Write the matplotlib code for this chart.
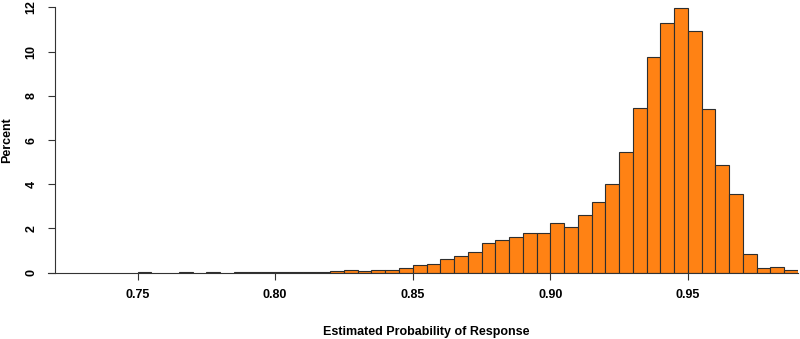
import numpy as np
import matplotlib
matplotlib.use("Agg")
import matplotlib.pyplot as plt

plt.rcParams['font.family'] = ['Liberation Sans', 'DejaVu Sans']

# histogram bins (left edges) and percent of cases in each bin
bin_left = [0.720, 0.725, 0.730, 0.735, 0.740, 0.745, 0.750, 0.755, 0.760, 0.765,
            0.770, 0.775, 0.780, 0.785, 0.790, 0.795, 0.800, 0.805, 0.810, 0.815,
            0.820, 0.825, 0.830, 0.835, 0.840, 0.845, 0.850, 0.855, 0.860, 0.865,
            0.870, 0.875, 0.880, 0.885, 0.890, 0.895, 0.900, 0.905, 0.910, 0.915,
            0.920, 0.925, 0.930, 0.935, 0.940, 0.945, 0.950, 0.955, 0.960, 0.965,
            0.970, 0.975, 0.980, 0.985]
percent = [0, 0, 0, 0, 0, 0, 0.03, 0, 0, 0.02,
           0, 0.02, 0, 0.02, 0.02, 0.02, 0.02, 0.02, 0.04, 0.05,
           0.06, 0.14, 0.09, 0.14, 0.14, 0.21, 0.36, 0.41, 0.60, 0.74,
           0.95, 1.33, 1.46, 1.61, 1.78, 1.81, 2.26, 2.07, 2.61, 3.18,
           4.01, 5.45, 7.44, 9.76, 11.28, 11.96, 10.91, 7.41, 4.89, 3.56,
           0.83, 0.20, 0.26, 0.11]
bin_width = 0.005

x_ticks = [0.75, 0.80, 0.85, 0.90, 0.95]
y_ticks = [0, 2, 4, 6, 8, 10, 12]

fig = plt.figure(figsize=(8, 3.39), dpi=100)
ax = fig.add_axes([55 / 800, 66.3 / 339, 743 / 800, 265.4 / 339])

bl = np.array(bin_left)
pc = np.array(percent)
keep = pc > 0
ax.bar(bl[keep], pc[keep], width=bin_width, align='edge',
       color='#ff8214', edgecolor='#2e2e2e', linewidth=0.8)
ax.axhline(0, color='#333333', linewidth=0.8, xmin=-0.01, clip_on=False)

ax.set_xlim(0.72, 0.99)
ax.set_ylim(0, 12)

for side in ['top', 'right', 'bottom']:
    ax.spines[side].set_visible(False)
ax.spines['left'].set_color('#333333')
ax.spines['left'].set_linewidth(0.8)

ax.set_xticks(x_ticks)
ax.set_xticklabels([f"{v:.2f}" for v in x_ticks])
ax.set_yticks(y_ticks)
ax.set_yticklabels([str(v) for v in y_ticks], rotation=90, va='center')
ax.tick_params(axis='both', length=5, width=0.8, color='#333333',
               labelsize=9, direction='out')
ax.tick_params(axis='x', pad=6.5)
ax.tick_params(axis='y', pad=7.5)
for lab in ax.get_xticklabels() + ax.get_yticklabels():
    lab.set_fontweight('bold')

ax.set_xlabel('Estimated Probability of Response', fontsize=9,
              fontweight='bold', labelpad=0)
ax.xaxis.set_label_coords(0.5, -0.2)
ax.set_ylabel('Percent', fontsize=9, fontweight='bold')
ax.yaxis.set_label_coords(-0.0565, 0.5)

fig.savefig('out.png', dpi=100)
